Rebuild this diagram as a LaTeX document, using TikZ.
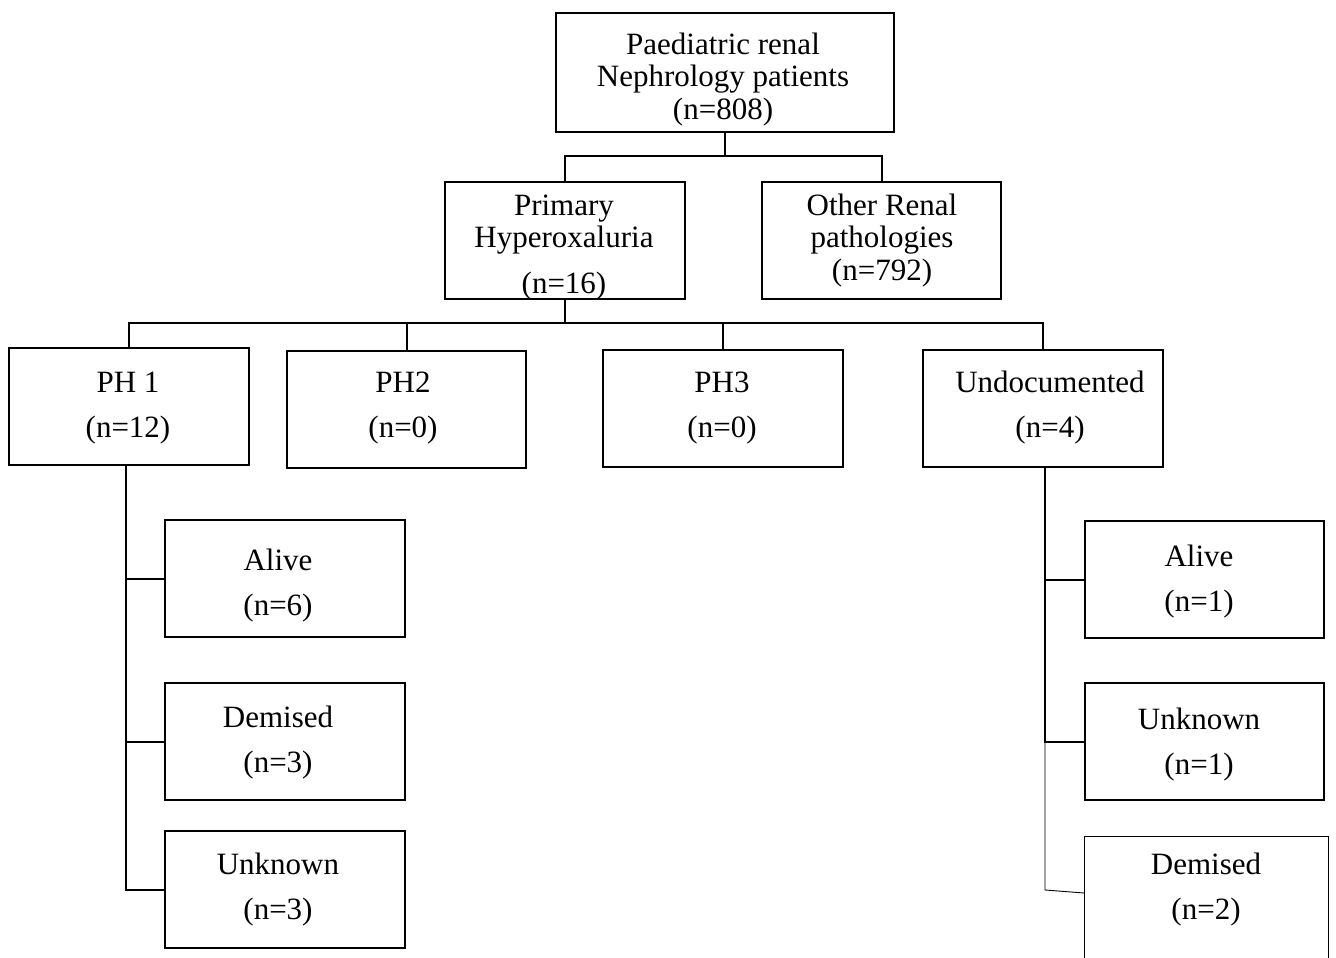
\documentclass[tikz,border=0pt]{standalone}
\usepackage{fontspec}
\setmainfont{Liberation Serif}
\begin{document}
\begin{tikzpicture}[x=1pt,y=-1pt,
  box/.style={draw, line width=2pt, minimum width=240pt, minimum height=117pt, inner sep=0pt, anchor=north west},
  txt/.style={anchor=base, inner sep=0pt, font=\fontsize{31}{33}\selectfont},
  conn/.style={line width=2pt},
  thinconn/.style={line width=0.9pt}]
\useasboundingbox (0,0) rectangle (1336,958);
% boxes
\node[box, minimum width=338pt, minimum height=119pt] (top) at (555,12) {};
\node[box, minimum height=117pt] (ph) at (444,181) {};
\node[box, minimum width=239pt, minimum height=117pt] (oth) at (761,181) {};
\node[box] (ph1) at (8,347) {};
\node[box, minimum width=239pt] (ph2) at (286,350) {};
\node[box] (ph3) at (602,349) {};
\node[box] (und) at (922,349) {};
\node[box] (lalive) at (164,519) {};
\node[box] (ldem) at (164,682) {};
\node[box] (lunk) at (164,830) {};
\node[box, minimum width=239pt] (ralive) at (1084,520) {};
\node[box, minimum width=239pt] (runk) at (1084,682) {};
\node[anchor=north west, minimum width=244pt, minimum height=122pt, inner sep=0pt] (rdem) at (1084,836) {};
\draw[thinconn] (rdem.south west) -- (rdem.north west) -- (rdem.north east) -- (rdem.south east);
% texts
\node[txt] at (723,55) {Paediatric renal};
\node[txt] at (723,87) {Nephrology patients};
\node[txt] at (723,119) {(n=808)};
\node[txt] at (564,215) {Primary};
\node[txt] at (564,247) {Hyperoxaluria};
\node[txt] at (564,293) {(n=16)};
\node[txt] at (882,215) {Other Renal};
\node[txt] at (882,247) {pathologies};
\node[txt] at (882,280) {(n=792)};
\node[txt] at (128,392) {PH 1};
\node[txt] at (128,437) {(n=12)};
\node[txt] at (403,392) {PH2};
\node[txt] at (403,437) {(n=0)};
\node[txt] at (722,392) {PH3};
\node[txt] at (722,437) {(n=0)};
\node[txt] at (1050,392) {Undocumented};
\node[txt] at (1050,437) {(n=4)};
\node[txt] at (278,570) {Alive};
\node[txt] at (278,615) {(n=6)};
\node[txt] at (278,727) {Demised};
\node[txt] at (278,772) {(n=3)};
\node[txt] at (278,874) {Unknown};
\node[txt] at (278,919) {(n=3)};
\node[txt] at (1199,566) {Alive};
\node[txt] at (1199,611) {(n=1)};
\node[txt] at (1199,729) {Unknown};
\node[txt] at (1199,774) {(n=1)};
\node[txt] at (1206,874) {Demised};
\node[txt] at (1206,919) {(n=2)};
% connectors
\coordinate (j1) at (top.south |- 0,156);
\draw[conn] (top.south) -- (j1);
\draw[conn] (ph.north) |- (j1) -| (oth.north);
\coordinate (j2) at (ph.south |- 0,323);
\draw[conn] (ph.south) -- (j2);
\draw[conn] (ph1.north) |- (j2) -| (ph2.north);
\draw[conn] (j2) -| (ph3.north);
\draw[conn] (j2) -| (und.north);
\coordinate (lt) at (126,464);
\draw[conn] (lt) |- (lunk.west);
\draw[conn] (lt |- lalive.west) -- (lalive.west);
\draw[conn] (lt |- ldem.west) -- (ldem.west);
\coordinate (rt) at (1045,466);
\draw[conn] (rt) |- (ralive.west);
\draw[conn] (rt |- ralive.west) |- (runk.west);
\coordinate (rb) at (1045,890);
\coordinate (rd) at (1084,893);
\draw[thinconn] (rt |- runk.west) -- (rb) -- (rd);
\end{tikzpicture}
\end{document}
